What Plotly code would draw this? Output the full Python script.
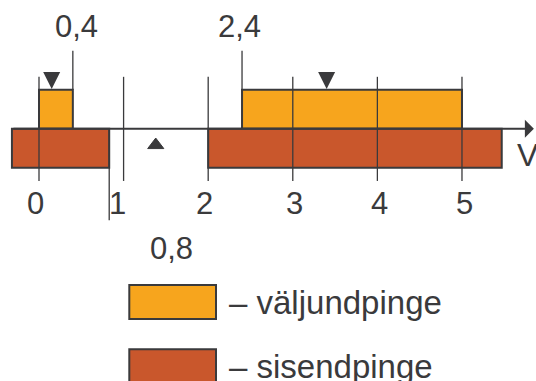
import plotly.graph_objects as go

# ---- data ----
out_start = [0.0, 2.4]      # väljundpinge intervals (V)
out_end = [0.4, 5.0]
in_start = [-0.32, 2.0]     # sisendpinge intervals (V)
in_end = [0.83, 5.47]
tick_vals = [0, 1, 2, 3, 4, 5]
tick_text = ["0", "1", "2", "3", "4", "5"]
mark_vals = [0.4, 2.4]
mark_text = ["0,4", "2,4"]
low_mark_val = 0.83
low_mark_text = "0,8"
down_tri_x = [0.15, 3.4]
up_tri_x = [1.38]
legend_names = ["– väljundpinge", "– sisendpinge"]

# label nudges in pixels (style only)
tick_shift = [-4, -6, -4, 2, 2, 3]
mark_shift = [4, -3]

ORANGE = "#F7A51D"
BROWN = "#C9572C"
EDGE = "#3A3A3C"
TXT = "#3A3A3C"
FONT = "Liberation Sans, Arial, sans-serif"
W, H = 536, 381

fig = go.Figure()

fig.add_trace(go.Bar(
    orientation="h", y=[0.5] * len(out_start), base=out_start,
    x=[e - s for s, e in zip(out_start, out_end)], width=1,
    marker=dict(color=ORANGE, line=dict(color=EDGE, width=2)), showlegend=False))
fig.add_trace(go.Bar(
    orientation="h", y=[-0.5] * len(in_start), base=in_start,
    x=[e - s for s, e in zip(in_start, in_end)], width=1,
    marker=dict(color=BROWN, line=dict(color=EDGE, width=2)), showlegend=False))

# vertical tick lines
lx, ly = [], []
for v in tick_vals:
    lx += [v, v, None]
    ly += [1.33, -1.34, None]
for v in mark_vals:
    lx += [v, v, None]
    ly += [1.0, 2.0, None]
lx += [low_mark_val, low_mark_val, None]
ly += [0, -2.35, None]
fig.add_trace(go.Scatter(x=lx, y=ly, mode="lines",
                         line=dict(color=EDGE, width=1.3), showlegend=False, hoverinfo="skip"))

# triangles
fig.add_trace(go.Scatter(x=down_tri_x, y=[1.02] * len(down_tri_x), mode="markers",
                         marker=dict(symbol="arrow-down", size=17, color=EDGE, line=dict(width=0)),
                         showlegend=False))
fig.add_trace(go.Scatter(x=up_tri_x, y=[-0.42] * len(up_tri_x), mode="markers",
                         marker=dict(symbol="triangle-up", size=14, color=EDGE,
                                     line=dict(width=1, color=EDGE)),
                         showlegend=False))

ann = []
# axis arrow
ann.append(dict(x=5.85, y=0, ax=in_start[0], ay=0, xref="x", yref="y", axref="x", ayref="y",
                showarrow=True, arrowhead=1, arrowwidth=2, arrowsize=1.5, arrowcolor=EDGE, text=""))
for v, t, s in zip(tick_vals, tick_text, tick_shift):
    ann.append(dict(x=v, y=-1.93, xref="x", yref="y", text=t, showarrow=False, xshift=s,
                    font=dict(size=31, color=TXT, family=FONT)))
for v, t, s in zip(mark_vals, mark_text, mark_shift):
    ann.append(dict(x=v, y=2.61, xref="x", yref="y", text=t, showarrow=False, xshift=s,
                    font=dict(size=31, color=TXT, family=FONT)))
ann.append(dict(x=low_mark_val, y=-3.06, xref="x", yref="y", text=low_mark_text, showarrow=False,
                xshift=62, font=dict(size=31, color=TXT, family=FONT)))
ann.append(dict(x=5.78, y=-0.67, xref="x", yref="y", text="V", showarrow=False,
                font=dict(size=32, color=TXT, family=FONT)))

# legend (manual)
shapes = []
for i, (name, col) in enumerate(zip(legend_names, [ORANGE, BROWN])):
    top = 285 + 64.3 * i
    shapes.append(dict(type="rect", xref="paper", yref="paper",
                       x0=129.3 / W, x1=216 / W, y0=1 - (top + 34) / H, y1=1 - top / H,
                       fillcolor=col, line=dict(color=EDGE, width=2)))
    ann.append(dict(x=227 / W, y=1 - (top + 17) / H, xref="paper", yref="paper",
                    xanchor="left", yanchor="middle", text=name, showarrow=False,
                    font=dict(size=33, color=TXT, family=FONT)))

fig.update_layout(
    width=W, height=H, margin=dict(l=0, r=0, t=0, b=0),
    paper_bgcolor="white", plot_bgcolor="white",
    xaxis=dict(range=[-0.461, 5.875], visible=False, fixedrange=True),
    yaxis=dict(range=[-6.47, 3.3], visible=False, fixedrange=True),
    barmode="overlay", annotations=ann, shapes=shapes, showlegend=False,
)
fig.write_html("out.html", config={"displayModeBar": False})

# remove default page margin so the figure sits at the window's top-left corner
with open("out.html", encoding="utf-8") as f:
    html = f.read()
html = html.replace("<body>", '<body style="margin:0;overflow:hidden">', 1)
with open("out.html", "w", encoding="utf-8") as f:
    f.write(html)
